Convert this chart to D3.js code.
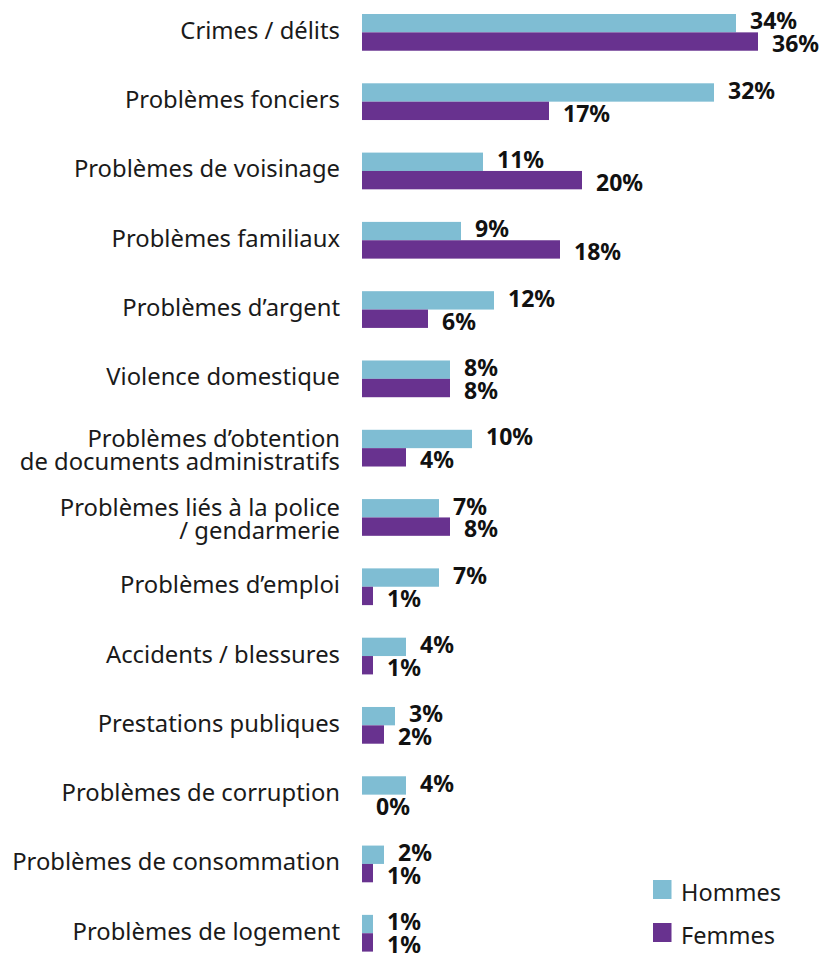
<!DOCTYPE html>
<html lang="fr">
<head>
<meta charset="utf-8">
<script src="https://cdn.jsdelivr.net/npm/d3@7"></script>
<style>
  html, body { margin: 0; padding: 0; background: #ffffff; }
  svg { display: block; font-family: "Noto Sans", "Open Sans", sans-serif; }
</style>
</head>
<body>
<svg id="chart" width="823" height="953"></svg>
<script>
// Problem categories (line breaks marked with \n)
const categories = [
  "Crimes / délits",
  "Problèmes fonciers",
  "Problèmes de voisinage",
  "Problèmes familiaux",
  "Problèmes d’argent",
  "Violence domestique",
  "Problèmes d’obtention\nde documents administratifs",
  "Problèmes liés à la police\n/ gendarmerie",
  "Problèmes d’emploi",
  "Accidents / blessures",
  "Prestations publiques",
  "Problèmes de corruption",
  "Problèmes de consommation",
  "Problèmes de logement"
];

// Share of respondents (%) by sex
const hommes = [34, 32, 11, 9, 12, 8, 10, 7, 7, 4, 3, 4, 2, 1];
const femmes = [36, 17, 20, 18, 6, 8, 4, 8, 1, 1, 2, 0, 1, 1];

const seriesNames = ["Hommes", "Femmes"];
const seriesColors = ["#7fbdd3", "#68328f"];

const svg = d3.select("#chart");

const xMax = 36;
const x = d3.scaleLinear().domain([0, xMax]).range([362, 758]);

const y0 = d3.scaleBand()
  .domain(categories)
  .range([14, 951.6])
  .paddingInner(0.47)
  .paddingOuter(0);

const y1 = d3.scaleBand()
  .domain(seriesNames)
  .range([0, y0.bandwidth()]);

const color = d3.scaleOrdinal().domain(seriesNames).range(seriesColors);

const rows = categories.map((c, i) => ({
  category: c,
  values: [
    { series: "Hommes", value: hommes[i] },
    { series: "Femmes", value: femmes[i] }
  ]
}));

const groups = svg.append("g")
  .selectAll("g.row")
  .data(rows)
  .join("g")
  .attr("class", "row")
  .attr("transform", d => `translate(0,${y0(d.category)})`);

// Bars
groups.selectAll("rect")
  .data(d => d.values)
  .join("rect")
  .attr("x", x(0))
  .attr("y", d => y1(d.series))
  .attr("width", d => x(d.value) - x(0))
  .attr("height", y1.bandwidth())
  .attr("fill", d => color(d.series));

// Value labels
const fmt = d => d3.format(".0f")(d) + "%";
const labelShift = { Hommes: -2, Femmes: 2.5 };
groups.selectAll("text.value")
  .data(d => d.values)
  .join("text")
  .attr("class", "value")
  .attr("x", d => x(d.value) + 14)
  .attr("y", d => y1(d.series) + y1.bandwidth() / 2 + labelShift[d.series])
  .attr("dy", "0.36em")
  .attr("font-size", 23)
  .attr("font-weight", 700)
  .attr("fill", "#111111")
  .text(d => fmt(d.value));

// Category labels
groups.append("text")
  .attr("class", "category")
  .attr("text-anchor", "end")
  .attr("font-size", 23.8)
  .attr("fill", "#1a1a1a")
  .each(function(d) {
    const lines = d.category.split("\n");
    const mid = y0.bandwidth() / 2;
    const t = d3.select(this);
    lines.forEach((line, i) => {
      const base = lines.length === 1
        ? mid + 6.5
        : mid - 1.5 + i * 23;
      t.append("tspan")
        .attr("x", 340)
        .attr("y", base)
        .text(line);
    });
  });

// Legend
const legend = svg.append("g")
  .selectAll("g.legend")
  .data(seriesNames)
  .join("g")
  .attr("class", "legend")
  .attr("transform", (d, i) => `translate(653,${880 + i * 43})`);

legend.append("rect")
  .attr("width", 18.5)
  .attr("height", 19)
  .attr("fill", d => color(d));

legend.append("text")
  .attr("x", 28)
  .attr("y", 20.5)
  .attr("font-size", 23.5)
  .attr("fill", "#1a1a1a")
  .text(d => d);
</script>
</body>
</html>
